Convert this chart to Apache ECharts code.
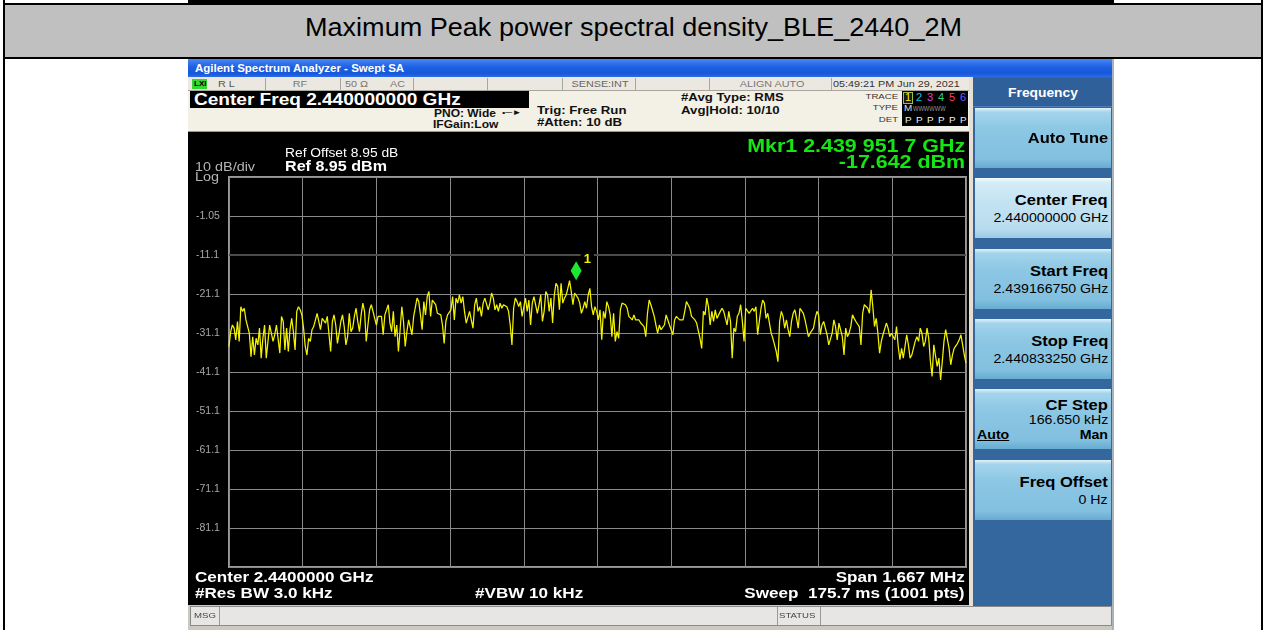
<!DOCTYPE html>
<html>
<head>
<meta charset="utf-8">
<title>Maximum Peak power spectral density_BLE_2440_2M</title>
<script src="https://cdn.jsdelivr.net/npm/echarts@6/dist/echarts.min.js"></script>
<style>
body{margin:0;background:#fff;font-family:"Liberation Sans",Arial,sans-serif;}
#page{position:relative;width:1266px;height:630px;overflow:hidden;background:#fff;}
.b{position:absolute;box-sizing:border-box;}
.t{position:absolute;white-space:nowrap;z-index:3;}
.key{position:absolute;left:975px;width:136px;height:60px;
  background:linear-gradient(#e2f2fa 0,#a4d4ec 7%,#8cc7e4 35%,#82c0e0 85%,#66abd1 100%);}
.key.on{background:linear-gradient(#f6fbfd 0,#d4ecf7 8%,#c3e3f2 40%,#b8dcef 85%,#9bcae3 100%);}
</style>
</head>
<body>
<div id="page">
  <!-- table around the screenshot -->
  <div class="b" style="left:188px;top:0;width:926px;height:3px;background:#000"></div>
  <div class="b" style="left:3px;top:0;width:2px;height:630px;background:#000"></div>
  <div class="b" style="left:1261px;top:0;width:2px;height:630px;background:#000"></div>
  <div class="b" style="left:3px;top:3px;width:1260px;height:2px;background:#000"></div>
  <div class="b" style="left:5px;top:5px;width:1256px;height:52px;background:#c0c0c0"></div>
  <div class="b" style="left:3px;top:57px;width:1260px;height:2px;background:#000"></div>

  <!-- analyzer frame -->
  <div class="b" style="left:188px;top:59px;width:926px;height:571px;background:#cdc9c1"></div>
  <div class="b" style="left:188px;top:59px;width:926px;height:18px;background:linear-gradient(#4a88f4,#1d60e2 45%,#1758da 80%,#2b6be6)"></div>
  <div class="b" style="left:188px;top:77px;width:782px;height:14px;background:#ebe8e1;border-bottom:1px solid #aaa69e"></div>
  <div id="dividers"></div>
  <div class="b" style="left:192px;top:79px;width:15px;height:10px;background:#33d633"></div>
  <div class="b" style="left:188px;top:91px;width:782px;height:41px;background:#f3f0e6;border-bottom:1px solid #9a968e"></div>
  <div class="b" style="left:190px;top:91px;width:339px;height:17px;background:#000"></div>
  <div class="b" style="left:902px;top:91px;width:66px;height:35px;background:#000"></div>
  <div class="b" style="left:903px;top:92px;width:10px;height:12px;border:1px solid #9cc23c;background:#1a1a1a"></div>

  <div id="chart" class="b" style="left:188px;top:132px;width:781px;height:473px;background:#000"></div>

  <div class="b" style="left:969px;top:77px;width:4px;height:529px;background:#e4e0d6"></div>
  <div class="b" style="left:973px;top:77px;width:139px;height:529px;background:#35679f"></div>
  <div class="b" style="left:973px;top:78px;width:139px;height:29px;background:#30609a;border-bottom:1px solid #4d7fb6"></div>
  <div class="b" style="left:1112px;top:59px;width:2px;height:571px;background:#aab2ba"></div>
  <div id="keys"></div>

  <div class="b" style="left:190px;top:606px;width:922px;height:20px;background:#e8e5e5;border:1px solid #8a8a8a"></div>
  <div class="b" style="left:219px;top:607px;width:1px;height:18px;background:#9a9a9a"></div>
  <div class="b" style="left:777px;top:607px;width:1px;height:18px;background:#9a9a9a"></div>
  <div class="b" style="left:820px;top:607px;width:1px;height:18px;background:#9a9a9a"></div>
  <div id="texts"></div>
</div>

<script type="text/javascript">
// trace 1, dBm, left to right across the span
var traceDbm = [
  -34.5, -30.7, -29.0, -29.8, -32.8, -28.1, -33.2, -24.3, -25.5, -24.7, -27.7, -27.3, -31.1, -37.1, -32.0, -36.7,
  -32.4, -34.1, -29.8, -37.5, -32.4, -29.0, -37.5, -33.2, -29.0, -28.5, -33.2, -31.5, -29.0, -29.4, -36.2, -26.8,
  -28.1, -35.4, -29.8, -35.8, -30.2, -27.3, -30.7, -35.4, -25.5, -24.3, -25.1, -26.4, -29.8, -34.5, -36.7, -32.4,
  -33.2, -30.2, -29.4, -29.8, -26.0, -26.4, -30.2, -27.3, -26.8, -28.5, -26.8, -27.3, -35.8, -28.1, -26.4, -29.0,
  -33.7, -31.1, -28.1, -26.4, -29.4, -34.1, -32.0, -26.0, -30.7, -29.8, -26.8, -24.7, -28.1, -30.7, -26.4, -23.4,
  -25.5, -33.2, -29.0, -25.1, -23.8, -25.5, -27.3, -29.0, -26.8, -26.4, -26.8, -31.5, -26.4, -26.8, -23.8, -28.5,
  -30.7, -25.5, -32.0, -29.0, -35.8, -30.2, -24.3, -28.1, -34.5, -30.7, -27.7, -28.1, -31.5, -26.8, -27.3, -22.1,
  -23.0, -26.4, -30.2, -23.0, -26.4, -21.7, -20.4, -26.8, -22.6, -22.1, -23.8, -26.0, -26.0, -26.4, -29.0, -33.7,
  -28.1, -26.4, -26.8, -25.1, -21.7, -27.7, -22.1, -23.4, -21.3, -23.4, -21.7, -25.5, -28.5, -28.1, -25.5,
  -25.5, -29.8, -23.8, -22.1, -25.5, -24.3, -26.8, -23.4, -22.1, -21.7, -25.1, -23.4, -20.8, -22.1, -25.1, -23.8,
  -25.5, -23.4, -24.7, -23.8, -23.4, -24.3, -25.5, -29.0, -34.1, -24.7, -22.1, -23.0, -24.3, -23.0, -26.8, -27.3,
  -22.1, -25.5, -22.6, -29.0, -23.4, -21.7, -22.1, -26.0, -23.8, -21.3, -28.1, -25.5, -20.4, -21.3, -25.5, -22.1,
  -28.5, -21.3, -18.3, -19.1, -25.1, -18.3, -23.4, -22.1, -21.3, -19.6, -17.6, -20.4, -23.8, -20.8, -20.4, -22.1,
  -23.4, -26.0, -24.7, -23.0, -24.7, -21.3, -19.6, -24.3, -26.4, -24.3, -25.5, -27.7, -25.1, -32.8, -25.5, -27.3,
  -23.0, -24.3, -26.4, -32.0, -26.0, -33.2, -30.7, -32.4, -25.1, -23.4, -23.0, -23.8, -24.7, -26.8, -26.4, -27.7,
  -26.4, -27.7, -28.1, -27.7, -28.5, -28.1, -29.4, -32.0, -26.0, -22.6, -23.8, -23.4, -26.8, -29.0, -31.1, -29.0,
  -30.2, -29.8, -29.0, -26.4, -27.7, -29.0, -29.4, -31.5, -27.7, -26.8, -26.8, -27.7, -28.1, -27.7, -25.5, -23.0,
  -23.8, -24.7, -26.8, -26.4, -27.7, -28.5, -28.1, -32.4, -35.0, -25.5, -26.4, -22.1, -24.3, -29.0, -25.5, -28.1,
  -25.1, -27.3,
  -27.3, -25.5, -24.7, -25.5, -27.3, -29.0, -25.5, -28.1, -37.5, -29.8, -30.7, -26.8, -26.0, -23.8, -28.1, -33.2,
  -24.7, -24.3, -26.0, -25.5, -24.7, -25.5, -24.3, -31.5, -28.1, -24.7, -22.6, -23.4, -27.3, -26.0, -28.5, -31.1,
  -32.4, -34.1, -35.8, -38.4, -28.1, -25.5, -26.8, -29.8, -27.7, -30.2, -32.0, -28.1, -26.0, -25.1, -27.3, -29.8,
  -24.7, -24.3, -26.0, -27.7, -29.8, -32.0, -31.1, -31.5, -29.8, -27.3, -25.5, -26.4, -31.5, -29.0, -28.1, -29.8,
  -31.5, -34.1, -34.5, -31.1, -27.7, -29.4, -32.8, -28.5, -28.1, -32.0, -36.7, -29.8, -32.0, -31.1, -29.4, -26.4,
  -27.3, -28.1, -28.5, -29.4, -34.1, -26.0, -23.8, -23.4, -24.7, -26.0, -20.0, -24.3, -29.4, -27.3, -31.1, -36.2,
  -33.2, -31.5, -31.1, -28.5, -29.8, -32.0, -31.1, -30.7, -32.8, -29.4, -34.5, -37.9, -35.0, -37.5, -34.5, -31.5,
  -34.1, -37.5, -36.7, -37.1, -33.2, -32.0, -33.2, -29.8, -31.1, -34.5, -33.2, -29.8, -32.4, -38.4, -42.2, -34.1,
  -34.1, -39.6, -37.5, -43.1, -38.4, -33.2, -30.2, -29.8, -35.0, -39.2, -36.7, -35.0, -34.5, -33.7, -32.8, -31.5,
  -34.1, -36.7, -38.8
];

// sweep settings
var spanKHz = 1666.5;
var divKHz = 166.65;
var refLevel = 8.95;
var dbPerDiv = 10;
var divisions = 10;

// marker 1
var mkrOffsetKHz = -48.3;   // 2.439 951 7 GHz - centre
var mkrDbm = -17.642;

// graticule labels, bottom to top
var yTickLabels = ['', '-81.1', '-71.1', '-61.1', '-51.1', '-41.1', '-31.1', '-21.1', '-11.1', '-1.05', ''];

var F = "'Liberation Sans', Arial, sans-serif";

// ---- analyzer chrome ----
var dividerX = [265, 340, 413, 487, 562, 635, 709, 831];
var dv = '';
dividerX.forEach(function (x) {
  dv += '<div class="b" style="left:' + x + 'px;top:78px;width:1px;height:12px;background:#aaa69e"></div>';
});
document.getElementById('dividers').innerHTML = dv;

var softkeys = [
  {top: 108, title: 'Auto Tune'},
  {top: 178, title: 'Center Freq', sub: '2.440000000 GHz', on: true},
  {top: 249, title: 'Start Freq', sub: '2.439166750 GHz'},
  {top: 319, title: 'Stop Freq', sub: '2.440833250 GHz'},
  {top: 389, title: 'CF Step', sub: '166.650 kHz', auto: true},
  {top: 460, title: 'Freq Offset', sub: '0 Hz'}
];
var kh = '';
softkeys.forEach(function (k) {
  kh += '<div class="key' + (k.on ? ' on' : '') + '" style="top:' + k.top + 'px"></div>';
});
document.getElementById('keys').innerHTML = kh;

// [text, x, y(centre of caps), size, bold, colour, align, scaleX]
var labels = [
  ['Agilent Spectrum Analyzer - Swept SA', 195, 69, 10, 1, '#fff', 'l', 1.15],
  ['LXI', 194, 84, 8, 1, '#000', 'l', 1],
  ['R L', 218, 84, 9, 0, '#555', 'l', 1.2],
  ['RF', 300, 84, 9, 0, '#777', 'c', 1.2],
  ['50 \u03a9', 345, 84, 9, 0, '#777', 'l', 1.2],
  ['AC', 390, 84, 9, 0, '#777', 'l', 1.2],
  ['SENSE:INT', 600, 84, 9, 0, '#666', 'c', 1.2],
  ['ALIGN AUTO', 772, 84, 9, 0, '#777', 'c', 1.2],
  ['05:49:21 PM Jun 29, 2021', 833, 84, 9, 0, '#333', 'l', 1.2],
  ['Center Freq 2.440000000 GHz', 194, 100, 16, 1, '#fff', 'l', 1.19],
  ['PNO: Wide', 434, 113.5, 10, 1, '#111', 'l', 1.2],
  ['\u2022\u2500\u25ba', 502, 113, 8, 0, '#111', 'l', 1.2],
  ['IFGain:Low', 433, 125, 10, 1, '#111', 'l', 1.2],
  ['Trig: Free Run', 537, 110, 11, 1, '#111', 'l', 1.2],
  ['#Atten: 10 dB', 537, 122.5, 11, 1, '#111', 'l', 1.2],
  ['#Avg Type: RMS', 681, 97, 11, 1, '#111', 'l', 1.2],
  ['Avg|Hold: 10/10', 681, 110, 11, 1, '#111', 'l', 1.2],
  ['TRACE', 898, 97, 8, 0, '#333', 'r', 1.2],
  ['TYPE', 898, 108, 8, 0, '#333', 'r', 1.2],
  ['DET', 898, 119.5, 8, 0, '#333', 'r', 1.2],
  ['1', 905, 98, 10, 0, '#f0f000', 'l', 1.1],
  ['2', 916, 98, 10, 0, '#10c0e8', 'l', 1.1],
  ['3', 927, 98, 10, 0, '#e040e0', 'l', 1.1],
  ['4', 938, 98, 10, 0, '#30d080', 'l', 1.1],
  ['5', 949, 98, 10, 0, '#ff3c64', 'l', 1.1],
  ['6', 960, 98, 10, 0, '#6a5cff', 'l', 1.1],
  ['M', 904, 108.5, 9, 0, '#ddd', 'l', 1.1],
  ['WWWWWW', 913, 108.5, 8, 0, '#999', 'l', 0.72],
  ['P', 905, 120, 9, 0, '#eee', 'l', 1.1],
  ['P', 916, 120, 9, 0, '#eee', 'l', 1.1],
  ['P', 927, 120, 9, 0, '#eee', 'l', 1.1],
  ['P', 938, 120, 9, 0, '#eee', 'l', 1.1],
  ['P', 949, 120, 9, 0, '#eee', 'l', 1.1],
  ['P', 960, 120, 9, 0, '#eee', 'l', 1.1],
  ['Mkr1 2.439 951 7 GHz', 965, 146, 18, 1, '#14e614', 'r', 1.19],
  ['-17.642 dBm', 965, 162, 18, 1, '#14e614', 'r', 1.19],
  ['Ref Offset 8.95 dB', 285, 153, 12, 0, '#fff', 'l', 1.15],
  ['Ref 8.95 dBm', 285, 165.5, 14, 1, '#fff', 'l', 1.15],
  ['10 dB/div', 195, 167, 12, 0, '#b4b4b4', 'l', 1.2],
  ['Log', 195, 177, 12, 0, '#b4b4b4', 'l', 1.2],
  ['Center 2.4400000 GHz', 195, 577, 14, 1, '#fff', 'l', 1.22],
  ['#Res BW 3.0 kHz', 195, 593, 14, 1, '#fff', 'l', 1.22],
  ['#VBW 10 kHz', 475, 593, 14, 1, '#fff', 'l', 1.22],
  ['Span 1.667 MHz', 965, 577, 14, 1, '#fff', 'r', 1.22],
  ['Sweep&nbsp; 175.7 ms (1001 pts)', 965, 593, 14, 1, '#fff', 'r', 1.22],
  ['MSG', 194, 616, 8, 0, '#444', 'l', 1.2],
  ['STATUS', 779, 616, 8, 0, '#444', 'l', 1.2],
  ['Frequency', 1043, 92.5, 12, 1, '#fff', 'c', 1.15]
];
softkeys.forEach(function (k) {
  if (!k.sub) {
    labels.push([k.title, 1108, k.top + 30, 14, 1, '#000', 'r', 1.18]);
  } else if (k.auto) {
    labels.push([k.title, 1108, k.top + 16, 14, 1, '#000', 'r', 1.18]);
    labels.push([k.sub, 1108, k.top + 31, 12, 0, '#000', 'r', 1.18]);
    labels.push(['Auto', 977, k.top + 46, 12, 1, '#000', 'l', 1.18, 'u']);
    labels.push(['Man', 1108, k.top + 46, 12, 1, '#000', 'r', 1.18]);
  } else {
    labels.push([k.title, 1108, k.top + 21.5, 14, 1, '#000', 'r', 1.18]);
    labels.push([k.sub, 1108, k.top + 40, 12, 0, '#000', 'r', 1.18]);
  }
});

var th = '';
labels.forEach(function (l) {
  var fs = l[3];
  var st = 'top:' + (l[2] - 0.49 * fs) + 'px;font:' + (l[4] ? 'bold ' : '') + fs + 'px/' + fs + 'px ' + F +
    ';color:' + l[5] + ';';
  if (l[6] === 'l') {
    st += 'left:' + l[1] + 'px;transform-origin:left center;transform:scaleX(' + l[7] + ');';
  } else if (l[6] === 'r') {
    st += 'right:' + (1266 - l[1]) + 'px;transform-origin:right center;transform:scaleX(' + l[7] + ');';
  } else {
    st += 'left:' + (l[1] - 300) + 'px;width:600px;text-align:center;transform:scaleX(' + l[7] + ');';
  }
  if (l[8] === 'u') st += 'text-decoration:underline;';
  th += '<div class="t" style="' + st + '">' + l[0] + '</div>';
});
th += '<div class="t" id="title" style="left:300px;top:14px;font:26px/26px ' + F +
  ';color:#000;transform-origin:left center">Maximum Peak power spectral density_BLE_2440_2M</div>';
document.getElementById('texts').innerHTML = th;

// title fitted to its width in the table cell
var titleWidth = 657;
var title = document.getElementById('title');
var tw = title.getBoundingClientRect().width;
title.style.left = (633 - titleWidth / 2) + 'px';
title.style.transform = 'scaleX(' + (titleWidth / tw) + ')';

// ---- the trace ----
var n = traceDbm.length;
var points = traceDbm.map(function (v, i) {
  return [-spanKHz / 2 + i * spanKHz / (n - 1), v];
});

var myChart = echarts.init(document.getElementById('chart'));
var option = {
  backgroundColor: '#000',
  animation: false,
  grid: {
    left: 41, top: 45, width: 737, height: 390,
    show: true, borderColor: '#9a9a9a', borderWidth: 2, backgroundColor: 'transparent'
  },
  xAxis: {
    type: 'value',
    min: -spanKHz / 2,
    max: spanKHz / 2,
    interval: divKHz,
    axisLabel: {show: false},
    axisTick: {show: false},
    axisLine: {show: false},
    splitLine: {show: true, lineStyle: {color: '#8a8a8a', width: 1}}
  },
  yAxis: [
    {
      type: 'value',
      position: 'left',
      min: refLevel - dbPerDiv * divisions,
      max: refLevel,
      show: false
    },
    {
      type: 'category',
      position: 'left',
      data: yTickLabels,
      boundaryGap: false,
      axisLine: {show: false},
      axisTick: {show: false},
      axisLabel: {
        interval: 0, color: '#a8a8a8', fontSize: 10.5, fontFamily: F,
        align: 'left', margin: 33
      },
      splitLine: {show: true, interval: 0, lineStyle: {color: '#8a8a8a', width: 1}}
    }
  ],
  series: [{
    name: 'Trace 1',
    type: 'line',
    yAxisIndex: 0,
    data: points,
    showSymbol: false,
    lineStyle: {color: '#f4f400', width: 1.25},
    markLine: {
      silent: true,
      symbol: ['none', 'none'],
      label: {show: false},
      lineStyle: {color: '#4c4c4c', width: 2, type: 'solid'},
      data: [{yAxis: refLevel - 2 * dbPerDiv}]
    },
    markPoint: {
      silent: true,
      symbol: 'diamond',
      symbolSize: [11, 19],
      symbolOffset: [0, -10],
      itemStyle: {color: '#1ee632'},
      label: {
        show: true, formatter: '1', color: '#f0f000', fontSize: 13, fontWeight: 'bold', fontFamily: F,
        position: [10, -9], backgroundColor: '#000', padding: [1, 3]
      },
      data: [{coord: [mkrOffsetKHz, mkrDbm]}]
    }
  }]
};
myChart.setOption(option);
</script>
</body>
</html>
